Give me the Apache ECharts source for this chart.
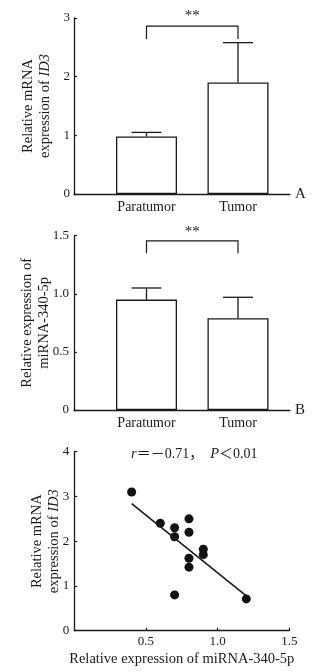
<!DOCTYPE html>
<html>
<head>
<meta charset="utf-8">
<script src="https://cdn.jsdelivr.net/npm/echarts@6/dist/echarts.min.js"></script>
<style>
html, body { margin: 0; padding: 0; background: #fff; }
#main { width: 329px; height: 672px; }
</style>
</head>
<body>
<div id="main"></div>
<script>
// panel A: ID3 mRNA
var groups = ['Paratumor', 'Tumor'];
var id3Mean = [0.98, 1.9];
var id3Upper = [1.05, 2.58];
var id3Bracket = [2.64, 2.86, 3.03]; // leg bottom, bar top, stars

// panel B: miRNA-340-5p
var mirMean = [0.95, 0.79];
var mirUpper = [1.05, 0.97];
var mirBracket = [1.35, 1.455, 1.53];

// panel C: correlation
var corrPoints = [
	[0.4, 3.1], [0.6, 2.4], [0.7, 2.3], [0.7, 2.1], [0.8, 2.5], [0.8, 2.2],
	[0.9, 1.82], [0.9, 1.7], [0.8, 1.62], [0.8, 1.42], [0.7, 0.8], [1.2, 0.71]
];
var fitLine = [[0.4, 2.84], [1.2, 0.78]];

var FONT = 'Liberation Serif, Times New Roman, serif';
var INK = '#1a1a1a';

var chart = echarts.init(document.getElementById('main'));

function intFmt(v) {
	return String(v);
}

function numFmt(v) {
	return v === 0 ? '0' : v.toFixed(1);
}

function errorSeries(xi, yi, mean, upper) {
	return {
		type: 'custom',
		xAxisIndex: xi,
		yAxisIndex: yi,
		silent: true,
		z: 3,
		data: mean.map(function(m, i) { return [i, m, upper[i]]; }),
		renderItem: function(params, api) {
			var p0 = api.coord([api.value(0), api.value(1)]);
			var p1 = api.coord([api.value(0), api.value(2)]);
			var half = 15;
			var st = { stroke: INK, lineWidth: 1.3 };
			return {
				type: 'group',
				children: [
					{ type: 'line', shape: { x1: p0[0], y1: p0[1], x2: p1[0], y2: p1[1] }, style: st },
					{ type: 'line', shape: { x1: p1[0] - half, y1: p1[1], x2: p1[0] + half, y2: p1[1] }, style: st }
				]
			};
		}
	};
}

function bracketSeries(xi, yi, br) {
	return {
		type: 'custom',
		xAxisIndex: xi,
		yAxisIndex: yi,
		silent: true,
		data: [[0, 1, br[0], br[1], br[2]]],
		renderItem: function(params, api) {
			var a = api.coord([api.value(0), api.value(2)]);
			var b = api.coord([api.value(0), api.value(3)]);
			var c = api.coord([api.value(1), api.value(3)]);
			var d = api.coord([api.value(1), api.value(2)]);
			var s = api.coord([0, api.value(4)]);
			return {
				type: 'group',
				children: [
					{ type: 'polyline', shape: { points: [a, b, c, d] }, style: { stroke: INK, lineWidth: 1.2, fill: null } },
					{ type: 'text', x: (b[0] + c[0]) / 2, y: s[1], style: { text: '**', fill: INK, font: '15px ' + FONT, align: 'center', verticalAlign: 'middle' } }
				]
			};
		}
	};
}

var tickLabel = { color: INK, fontFamily: FONT, fontSize: 14, margin: 6 };
var nameStyle = {
	fontFamily: FONT,
	fontSize: 14.5,
	color: INK,
	lineHeight: 17,
	rich: {
		n: { fontFamily: FONT, fontSize: 14.5, color: INK, lineHeight: 17 },
		i: { fontFamily: FONT, fontSize: 14.5, color: INK, lineHeight: 17, fontStyle: 'italic' }
	}
};

function valueY(grid, max, interval, fmt, name, gap, offset, margin) {
	return {
		type: 'value',
		gridIndex: grid,
		min: 0,
		max: max,
		interval: interval,
		offset: offset,
		name: name,
		nameLocation: 'middle',
		nameGap: gap,
		nameMoveOverlap: false,
		nameRotate: 90,
		nameTextStyle: nameStyle,
		axisLine: { show: true, lineStyle: { color: INK, width: 1.3 } },
		axisTick: { show: true, inside: true, length: 3, lineStyle: { color: INK, width: 1.2 } },
		axisLabel: { color: INK, fontFamily: FONT, fontSize: 13, margin: margin, formatter: fmt },
		splitLine: { show: false }
	};
}

function catX(grid) {
	return {
		type: 'category',
		gridIndex: grid,
		data: groups,
		axisLine: { show: false },
		axisTick: { show: false },
		axisLabel: tickLabel
	};
}

function lineX(grid, letter) {
	return {
		type: 'value',
		gridIndex: grid,
		min: 0,
		max: 1,
		name: letter,
		nameLocation: 'end',
		nameGap: 5,
		nameTextStyle: { fontFamily: FONT, fontSize: 15, color: INK, verticalAlign: 'middle' },
		axisLine: { show: true, lineStyle: { color: INK, width: 1.3 } },
		axisTick: { show: false },
		axisLabel: { show: false },
		splitLine: { show: false }
	};
}

function hiddenY(grid) {
	return { type: 'value', gridIndex: grid, show: false, min: 0, max: 1 };
}

function barSeries(xi, yi, data) {
	return {
		type: 'bar',
		xAxisIndex: xi,
		yAxisIndex: yi,
		data: data,
		barWidth: 61,
		silent: true,
		itemStyle: { color: '#fff', borderColor: INK, borderWidth: 1.3 }
	};
}

var option = {
	animation: false,
	backgroundColor: '#fff',
	title: {
		text: '{i|r}{n|＝－0.71，  }{i|P}{n|＜0.01}',
		left: 126,
		top: 442,
		textStyle: {
			fontWeight: 'normal',
			rich: {
				n: { fontFamily: FONT + ', Noto Sans CJK SC', fontSize: 14, fontWeight: 'normal', color: INK },
				i: { fontFamily: FONT, fontSize: 14.5, fontWeight: 'normal', color: INK, fontStyle: 'italic' }
			}
		}
	},
	grid: [
		{ left: 100.75, width: 183, top: 18, bottom: 478 },
		{ left: 74, right: 39, top: 18, bottom: 478 },
		{ left: 100.75, width: 183, top: 235.7, bottom: 262 },
		{ left: 74, right: 39, top: 235.7, bottom: 262 },
		{ left: 74.3, right: 39.7, top: 451.7, bottom: 41.3 }
	],
	xAxis: [
		catX(0),
		lineX(1, 'A'),
		catX(2),
		lineX(3, 'B'),
		{
			type: 'value',
			gridIndex: 4,
			min: 0,
			max: 1.5,
			interval: 0.5,
			name: 'Relative expression of miRNA-340-5p',
			nameLocation: 'middle',
			nameGap: 21,
			nameMoveOverlap: false,
			nameTextStyle: { fontFamily: FONT, fontSize: 14.5, color: INK },
			axisLine: { show: true, lineStyle: { color: INK, width: 1.3 } },
			axisTick: { show: true, inside: true, length: 3, lineStyle: { color: INK, width: 1.2 } },
			axisLabel: { color: INK, fontFamily: FONT, fontSize: 13, margin: 4, showMinLabel: false, formatter: numFmt },
			splitLine: { show: false }
		}
	],
	yAxis: [
		valueY(0, 3, 1, intFmt, '{n|Relative mRNA}\n{n|expression of }{i|ID3}', 20, 26.75, 4),
		hiddenY(1),
		valueY(2, 1.5, 0.5, numFmt, '{n|Relative expression of}\n{n|miRNA-340-5p}', 21, 26.75, 5),
		hiddenY(3),
		valueY(4, 4, 1, intFmt, '{n|Relative mRNA}\n{n|expression of }{i|ID3}', 12, 0, 5)
	],
	series: [
		barSeries(0, 0, id3Mean),
		errorSeries(0, 0, id3Mean, id3Upper),
		bracketSeries(0, 0, id3Bracket),
		barSeries(2, 2, mirMean),
		errorSeries(2, 2, mirMean, mirUpper),
		bracketSeries(2, 2, mirBracket),
		{
			type: 'line',
			xAxisIndex: 4,
			yAxisIndex: 4,
			data: fitLine,
			symbol: 'none',
			silent: true,
			lineStyle: { color: INK, width: 1.6 }
		},
		{
			type: 'scatter',
			xAxisIndex: 4,
			yAxisIndex: 4,
			data: corrPoints,
			symbolSize: 9,
			silent: true,
			itemStyle: { color: '#111', opacity: 1 }
		}
	]
};

chart.setOption(option);
</script>
</body>
</html>
